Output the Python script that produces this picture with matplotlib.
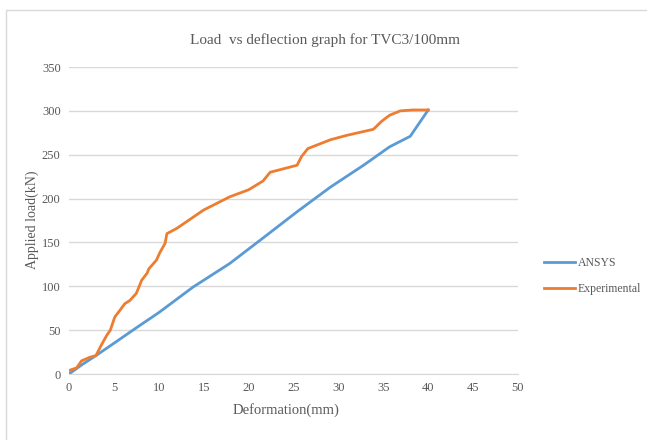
import matplotlib
matplotlib.use("Agg")
from matplotlib import pyplot as plt
from matplotlib.patches import Rectangle

# deformation (mm) / load (kN)
ansys_x = [0, 1.5, 3, 5, 7.4, 10, 13.8, 17.9, 21.6, 25.4, 29.1, 32.8, 35.7, 38, 40]
ansys_y = [0, 11, 21, 35, 52, 70, 99, 126, 155, 185, 213, 238, 259, 271, 301]

exp_x = [0, 0.85, 1.4, 2.3, 3.0, 3.6, 4.2, 4.6, 5.1, 5.7, 6.2, 6.8, 7.5, 8.1, 8.7,
         8.9, 9.75, 10.1, 10.7, 10.9, 12, 15, 17.9, 20, 21.6, 22.4, 25.4, 25.9,
         26.6, 29.1, 30.9, 33.9, 34.8, 35.7, 36.9, 38.3, 40]
exp_y = [4, 7, 15, 19, 21, 33, 44, 50, 65, 73, 80, 84, 92, 107, 115,
         120, 130, 138, 149, 160, 166, 187, 202, 210, 220, 230, 238, 248,
         257, 267, 272, 279, 288, 295, 300, 301, 301]

xticks = list(range(0, 51, 5))
yticks = list(range(0, 351, 50))

txt = "#595959"
serif = "Liberation Serif"

fig = plt.figure(figsize=(6.47, 4.40), dpi=100)
ax = fig.add_axes([69 / 647, 66 / 440, 449 / 647, 307 / 440])

fig.patches.append(Rectangle((6 / 647, -0.1), 1.2, 1 - 10 / 440 + 0.1,
                             transform=fig.transFigure, fill=False,
                             edgecolor="#d9d9d9", linewidth=1))

ax.plot(ansys_x, ansys_y, color="#5B9BD5", lw=2, label="ANSYS")
ax.plot(exp_x, exp_y, color="#ED7D31", lw=2, label="Experimental")

ax.set_xlim(0, 50)
ax.set_ylim(0, 350)
ax.set_xticks(xticks)
ax.set_yticks(yticks)
ax.grid(axis="y", color="#d9d9d9", lw=1)
ax.set_axisbelow(True)
for s in ["top", "right", "left"]:
    ax.spines[s].set_visible(False)
ax.spines["bottom"].set_color("#d9d9d9")
ax.tick_params(length=0, labelsize=9, colors=txt, pad=6)
for lab in ax.get_xticklabels() + ax.get_yticklabels():
    lab.set_fontfamily(serif)

fig.text(0.503, 0.909, "Load  vs deflection graph for TVC3/100mm",
         ha="center", va="center", fontsize=11, color=txt, family=serif)
fig.text(286 / 647, 1 - 410 / 440, "Deformation(mm)", ha="center",
         va="center", fontsize=10.5, color=txt, family=serif)
fig.text(32 / 647, 1 - 220 / 440, "Applied load(kN)", ha="center",
         va="center", rotation=90, fontsize=10, color=txt, family=serif)

leg = ax.legend(loc="center left", bbox_to_anchor=(1.035, 0.32), frameon=False,
                prop={"family": serif, "size": 8.5}, handlelength=2.6,
                handletextpad=0.2, labelspacing=1.2)
for t in leg.get_texts():
    t.set_color(txt)

fig.savefig("out.png", dpi=100)
